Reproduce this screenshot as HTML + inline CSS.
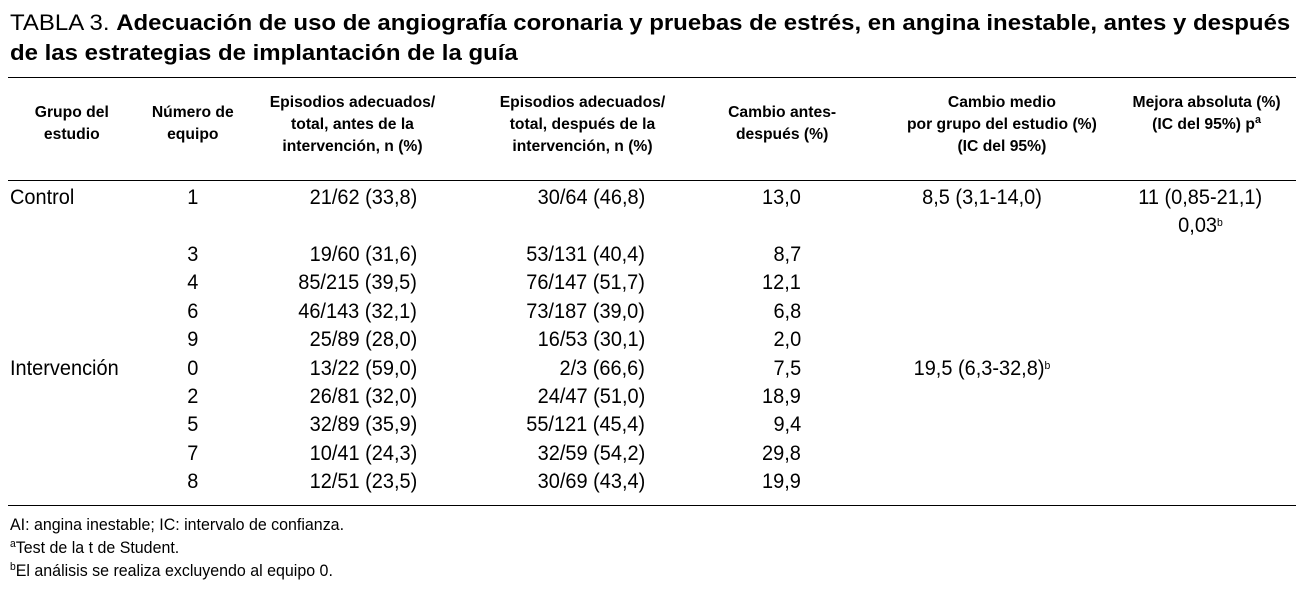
<!DOCTYPE html>
<html><head><meta charset="utf-8"><style>
body{margin:0;width:1306px;height:590px;background:#fff;position:relative;overflow:hidden;color:#000}
.t{position:absolute;font-family:"Liberation Sans",sans-serif;font-size:22px;left:10px;white-space:nowrap;transform-origin:0 50%;transform:scaleX(1.09)}
.c{position:absolute;font-family:"Liberation Sans",sans-serif;font-size:21px;white-space:nowrap;line-height:22px}
.c span{display:inline-block;transform:scaleX(0.95)}
.h{font-weight:bold;font-size:16px;text-align:center;line-height:22px}
.h span{transform:scaleX(0.98)}
.f{position:absolute;left:10px;font-family:"Liberation Sans",sans-serif;font-size:17px;white-space:nowrap;transform-origin:0 50%;transform:scaleX(0.94)}
.rule{position:absolute;left:8px;width:1288px;height:1px;background:#000}
sup{font-size:11px;vertical-align:6px;line-height:0}
</style></head><body>
<div class="t" style="top:10px">TABLA 3. <b>Adecuación de uso de angiografía coronaria y pruebas de estrés, en angina inestable, antes y después</b></div>
<div class="t" style="top:40px;font-weight:bold">de las estrategias de implantación de la guía</div>
<div class="rule" style="top:77px"></div>
<div class="rule" style="top:180px"></div>
<div class="rule" style="top:505px"></div>
<div id="hdr"></div><div id="body"></div>
<div class="f" style="top:515px">AI: angina inestable; IC: intervalo de confianza.</div>
<div class="f" style="top:538px"><sup>a</sup>Test de la t de Student.</div>
<div class="f" style="top:561px"><sup>b</sup>El análisis se realiza excluyendo al equipo 0.</div>
<script>
const headers=[["Grupo del<br>estudio",72,120],["Número de<br>equipo",193,110],["Episodios adecuados/<br>total, antes de la<br>intervención, n (%)",352,200],["Episodios adecuados/<br>total, después de la<br>intervención, n (%)",582,200],["Cambio antes-<br>después (%)",782,150],["Cambio medio<br>por grupo del estudio (%)<br>(IC del 95%)",1002,240],["Mejora absoluta (%)<br>(IC del 95%) p<sup>a</sup>",1207,190]];
const headerTops=[102,102,92,92,102,92,92];
const groups=["Control","","","","","Intervención","","","",""];
const teams=["1","3","4","6","9","0","2","5","7","8"];
const before=["21/62 (33,8)","19/60 (31,6)","85/215 (39,5)","46/143 (32,1)","25/89 (28,0)","13/22 (59,0)","26/81 (32,0)","32/89 (35,9)","10/41 (24,3)","12/51 (23,5)"];
const after=["30/64 (46,8)","53/131 (40,4)","76/147 (51,7)","73/187 (39,0)","16/53 (30,1)","2/3 (66,6)","24/47 (51,0)","55/121 (45,4)","32/59 (54,2)","30/69 (43,4)"];
const change=["13,0","8,7","12,1","6,8","2,0","7,5","18,9","9,4","29,8","19,9"];
const hd=document.getElementById('hdr');
headers.forEach((h,i)=>{const d=document.createElement('div');d.className='c h';


d.style.left=(h[1]-h[2]/2)+'px';d.style.width=h[2]+'px';d.style.top=headerTops[i]+'px';d.innerHTML='<span>'+h[0]+'</span>';hd.appendChild(d);});
const bd=document.getElementById('body');
function cell(txt,top,left,width,align,name){const d=document.createElement('div');d.className='c';


d.style.top=top+'px';d.style.left=left+'px';d.style.width=width+'px';d.style.textAlign=align;
const s=document.createElement('span');s.innerHTML=txt;
s.style.transformOrigin=align=='left'?'0 50%':(align=='right'?'100% 50%':'50% 50%');
d.appendChild(s);bd.appendChild(d);}
teams.forEach((t,i)=>{const y=(i==0?198:255+(i-1)*28.4)-11;
if(groups[i])cell(groups[i],y,10,150,'left','group-label');
cell(t,y,143,100,'center','team-number');
cell(before[i],y,217,200,'right','before-value');
cell(after[i],y,445,200,'right','after-value');
cell(change[i],y,651,150,'right','change-value');});
cell("8,5 (3,1-14,0)",187,862,240,'center','mean-change-control');
cell("19,5 (6,3-32,8)<sup>b</sup>",358,862,240,'center','mean-change-intervention');
cell("11 (0,85-21,1)",187,1100,200,'center','absolute-improvement');
cell("0,03<sup>b</sup>",215,1100,200,'center','p-value');
</script>
</body></html>
